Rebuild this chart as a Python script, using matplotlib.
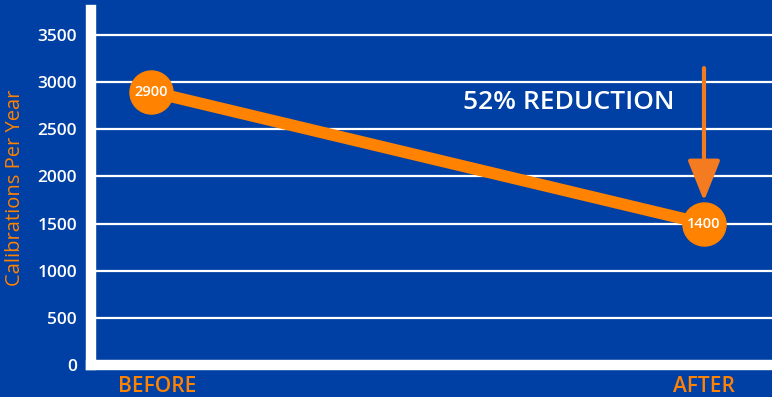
import matplotlib.pyplot as plt
from matplotlib.transforms import ScaledTranslation

# data
stages = ["BEFORE", "AFTER"]
calibrations = [2900, 1500]          # positions as drawn in the picture
point_labels = ["2900", "1400"]
y_ticks = [0, 500, 1000, 1500, 2000, 2500, 3000, 3500]
note = "52% REDUCTION"

blue = "#003FA3"
orange = "#FF8200"
arrow_orange = "#F47B20"

plt.rcParams['font.family'] = ['Open Sans', 'DejaVu Sans']

fig = plt.figure(figsize=(7.72, 3.97), dpi=100, facecolor=blue)
ax = fig.add_axes([91/772, (397-365)/397, (772-91)/772, (365-10)/397])
ax.set_facecolor(blue)

x = list(range(len(stages)))
ax.plot(x, calibrations, color=orange, lw=8.5, solid_capstyle="butt", zorder=3)
ax.plot(x, calibrations, "o", color=orange, ms=31, zorder=4)
for xi, v, lab in zip(x, calibrations, point_labels):
    ax.text(xi, v, lab, color="white", fontsize=10.5, fontweight="semibold",
            ha="center", va="center", zorder=5)

ax.set_ylim(0, 3766)
ax.set_xlim(-0.1085, 1.123)
ax.set_yticks(y_ticks)
ax.set_xticks(x)
ax.set_xticklabels(stages)
ax.grid(axis="y", color="white", lw=1.6)
ax.set_axisbelow(True)
ax.tick_params(axis="y", length=0, pad=10, labelcolor="white", labelsize=12.5)
ax.tick_params(axis="x", length=0, pad=8, labelcolor=orange, labelsize=15)
for lab in ax.get_yticklabels():
    lab.set_fontweight("semibold")
for lab in ax.get_xticklabels():
    lab.set_fontweight("semibold")
# BEFORE sits a little right of its point in the original
first = ax.get_xticklabels()[0]
first.set_transform(first.get_transform() + ScaledTranslation(6/100, 0, fig.dpi_scale_trans))

ax.set_ylabel("Calibrations Per Year", color=orange, fontsize=14.5)
ax.yaxis.set_label_coords(-(91-25)/681, 0.5)

for s in ["top", "right"]:
    ax.spines[s].set_visible(False)
for s in ["left", "bottom"]:
    ax.spines[s].set_color("white")
    ax.spines[s].set_linewidth(7.5)
    ax.spines[s].set_capstyle("projecting")

ax.annotate("", xy=(1, 1740), xytext=(1, 3150),
            arrowprops=dict(arrowstyle="-|>,head_width=1.0,head_length=2.5",
                            color=arrow_orange, lw=3, shrinkA=0, shrinkB=0),
            zorder=6)
ax.text(0.756, 2790, note, color="white", fontsize=19, fontweight="semibold",
        ha="center", va="center")

fig.savefig("out.png", dpi=100, facecolor=blue)
